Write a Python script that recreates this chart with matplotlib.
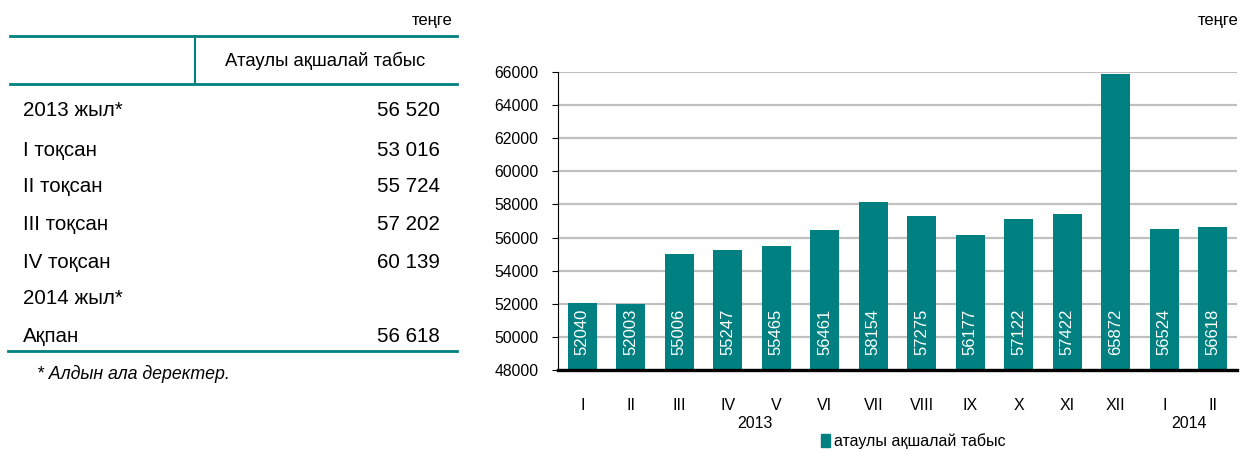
import matplotlib.pyplot as plt
from matplotlib.patches import Patch

plt.rcParams['font.family'] = ['Liberation Sans', 'DejaVu Sans']

# table data
row_labels = ['2013 жыл*', 'I тоқсан', 'II тоқсан', 'III тоқсан', 'IV тоқсан', '2014 жыл*', 'Ақпан']
row_values = ['56 520', '53 016', '55 724', '57 202', '60 139', '', '56 618']

# chart data
months = ['I', 'II', 'III', 'IV', 'V', 'VI', 'VII', 'VIII', 'IX', 'X', 'XI', 'XII', 'I', 'II']
income = [52040, 52003, 55006, 55247, 55465, 56461, 58154, 57275, 56177, 57122, 57422, 65872, 56524, 56618]

teal = '#008080'
W, H = 1240, 451

fig = plt.figure(figsize=(W / 100, H / 100), dpi=100)

# background axes in pixel coords for the table
bg = fig.add_axes([0, 0, 1, 1])
bg.set_xlim(0, W)
bg.set_ylim(H, 0)
bg.axis('off')

bg.text(453, 20, 'теңге', ha='right', va='center', fontsize=12)
bg.plot([10, 457], [36, 36], color=teal, lw=2)
bg.plot([195, 195], [36, 84], color=teal, lw=1.5)
bg.plot([10, 457], [84, 84], color=teal, lw=2)
bg.text(325, 61, 'Атаулы ақшалай табыс', ha='center', va='center', fontsize=13.3)

row_y = [110, 150, 187, 224, 262, 299, 337]
for lab, val, y in zip(row_labels, row_values, row_y):
    bg.text(23, y, lab, ha='left', va='center', fontsize=14.8)
    bg.text(440, y, val, ha='right', va='center', fontsize=14.8)
bg.plot([8, 457], [351, 351], color=teal, lw=2)
bg.text(37, 374, '* Алдын ала деректер.', ha='left', va='center', fontsize=12.8, style='italic')

bg.text(1238, 20, 'теңге', ha='right', va='center', fontsize=12)

# bar chart
ax = fig.add_axes([558 / W, 1 - 370 / H, (1237 - 558) / W, (370 - 72) / H])
x = list(range(len(months)))
ax.bar(x, income, width=0.6, color=teal, zorder=3)
ax.set_xlim(-0.5, len(months) - 0.5)
ax.set_ylim(48000, 66000)
ax.set_yticks(range(48000, 66001, 2000))
ax.yaxis.grid(True, color='#c0c0c0', lw=1.6, zorder=0)
ax.set_axisbelow(True)
for s in ['top', 'right']:
    ax.spines[s].set_visible(False)
ax.spines['left'].set_linewidth(0.8)
ax.spines['bottom'].set_linewidth(2.4)
ax.spines['bottom'].set_zorder(4)
ax.set_xticks(x)
ax.set_xticklabels(months)
ax.tick_params(axis='x', length=0, pad=20, labelsize=11.5)
ax.tick_params(axis='y', length=4, width=0.8, direction='out', pad=10, labelsize=11.3)

for xi, v in zip(x, income):
    ax.annotate(str(v), (xi, 48000), xytext=(0, 11), textcoords='offset points',
                rotation=90, ha='center', va='bottom', color='white', fontsize=12, zorder=5)

bg.text(755, 424, '2013', ha='center', va='center', fontsize=11.5)
bg.text(1189, 424, '2014', ha='center', va='center', fontsize=11.5)

leg = fig.legend(handles=[Patch(color=teal, label='атаулы ақшалай табыс')],
                 loc='center', bbox_to_anchor=(913 / W, 1 - 441 / H), frameon=False,
                 handlelength=0.6, handleheight=0.9, handletextpad=0.2, fontsize=11.5)

fig.savefig('out.png', dpi=100)
